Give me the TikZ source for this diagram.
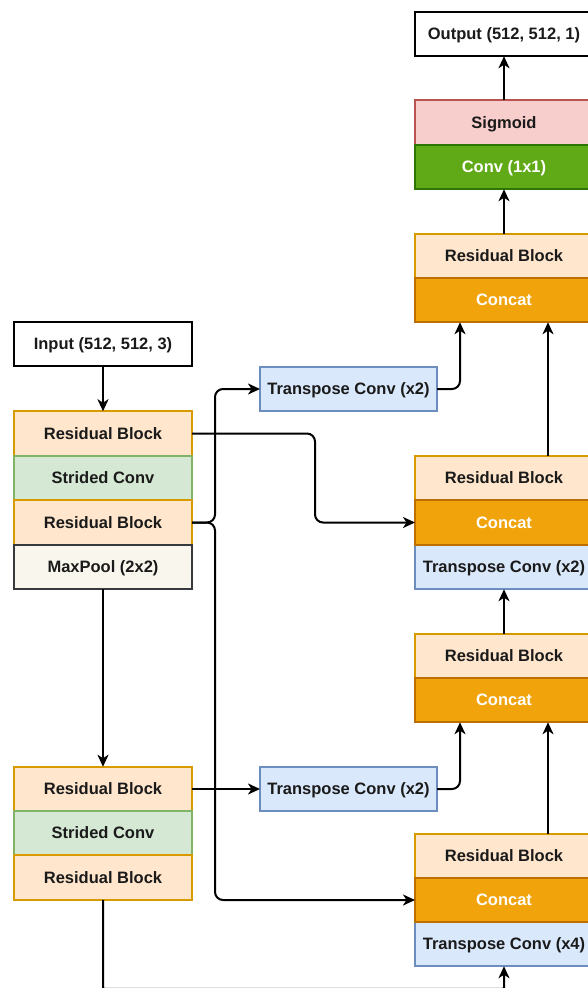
\documentclass[tikz,border=0pt]{standalone}
\usepackage{fontspec}
\setmainfont{Liberation Sans}
\usetikzlibrary{arrows.meta}
\definecolor{resF}{HTML}{FFE6CC}\definecolor{resD}{HTML}{D79B00}
\definecolor{catF}{HTML}{F0A30A}\definecolor{catD}{HTML}{BD7000}
\definecolor{strF}{HTML}{D5E8D4}\definecolor{strD}{HTML}{82B366}
\definecolor{tcF}{HTML}{DAE8FC}\definecolor{tcD}{HTML}{6C8EBF}
\definecolor{mpF}{HTML}{F9F7ED}\definecolor{mpD}{HTML}{36393D}
\definecolor{sigF}{HTML}{F8CECC}\definecolor{sigD}{HTML}{B85450}
\definecolor{cvF}{HTML}{60A917}\definecolor{cvD}{HTML}{2D7600}
\definecolor{txt}{HTML}{1A1A1A}
\tikzset{
  box/.style={draw, line width=1.9pt, minimum width=178pt, minimum height=44.5pt,
    inner sep=0pt, outer sep=0pt, text=txt, text height=11.9pt, text depth=0pt,
    font=\fontsize{16.5}{19}\selectfont\bfseries},
  plain/.style={box, fill=white, draw=black},
  res/.style={box, fill=resF, draw=resD},
  cat/.style={box, fill=catF, draw=catD, text=white},
  strd/.style={box, fill=strF, draw=strD},
  tconv/.style={box, fill=tcF, draw=tcD},
  mpool/.style={box, fill=mpF, draw=mpD},
  sig/.style={box, fill=sigF, draw=sigD},
  cv/.style={box, fill=cvF, draw=cvD, text=white},
  arr/.style={line width=2pt, -{Stealth[length=12pt,width=11pt,inset=3.5pt]}, rounded corners=8pt}
}
\begin{document}
\begin{tikzpicture}[x=1pt,y=1pt]
\useasboundingbox (0,0) rectangle (588,-988);
\begin{scope}
\clip (0,0) rectangle (588,-988);
% right column
\node[plain] (out) at (504,-34) {Output (512, 512, 1)};
\node[sig] (sg) at (504,-122.5) {Sigmoid};
\node[cv] (cv) at (504,-167) {Conv (1x1)};
\node[res] (ra) at (504,-256) {Residual Block};
\node[cat] (ca) at (504,-300) {Concat};
\node[res] (rb) at (504,-478) {Residual Block};
\node[tconv] (tb) at (504,-567) {Transpose Conv (x2)};
\node[cat] (cb) at (504,-522.5) {Concat};
\node[res] (rc) at (504,-656) {Residual Block};
\node[cat] (cc) at (504,-700) {Concat};
\node[res] (rd) at (504,-856) {Residual Block};
\node[tconv] (td) at (504,-944) {Transpose Conv (x4)};
\node[cat] (cd) at (504,-900) {Concat};
% middle column
\node[tconv, minimum width=177pt] (tu) at (348.5,-389) {Transpose Conv (x2)};
\node[tconv, minimum width=177pt] (tl) at (348.5,-789) {Transpose Conv (x2)};
% left column
\node[plain] (in) at (103,-344) {Input (512, 512, 3)};
\node[res] (l1) at (103,-433.5) {Residual Block};
\node[strd] (l2) at (103,-478) {Strided Conv};
\node[res] (l3) at (103,-522.5) {Residual Block};
\node[mpool] (l4) at (103,-567) {MaxPool (2x2)};
\node[res] (m1) at (103,-789) {Residual Block};
\node[strd] (m2) at (103,-833) {Strided Conv};
\node[res] (m3) at (103,-877.5) {Residual Block};
% connectors
\draw[arr] (sg.north) -- (out.south);
\draw[arr] (ra.north) -- (cv.south);
\draw[arr] (in.south) -- (l1.north);
\draw[arr] (l1.east) -- ([xshift=123pt]l1.east) |- (cb.west);
\draw[arr] (l3.east) -- ([xshift=23pt]l3.east) |- (tu.west);
\draw[arr] (l3.east) -- ([xshift=23pt]l3.east) |- (cd.west);
\draw[arr] (tu.east) -| ([xshift=-44pt]ca.south);
\draw[arr] ([xshift=44pt]rb.north) -- ([xshift=44pt]ca.south);
\draw[arr] (rc.north) -- (tb.south);
\draw[arr] (tl.east) -| ([xshift=-44pt]cc.south);
\draw[arr] ([xshift=44pt]rd.north) -- ([xshift=44pt]cc.south);
\draw[arr] (l4.south) -- (m1.north);
\draw[arr] (m1.east) -- (tl.west);
\coordinate (bt) at (103,-988.8);
\draw[arr, rounded corners=1pt] (m3.south) -- (bt) -| (td.south);
\end{scope}
\end{tikzpicture}
\end{document}
